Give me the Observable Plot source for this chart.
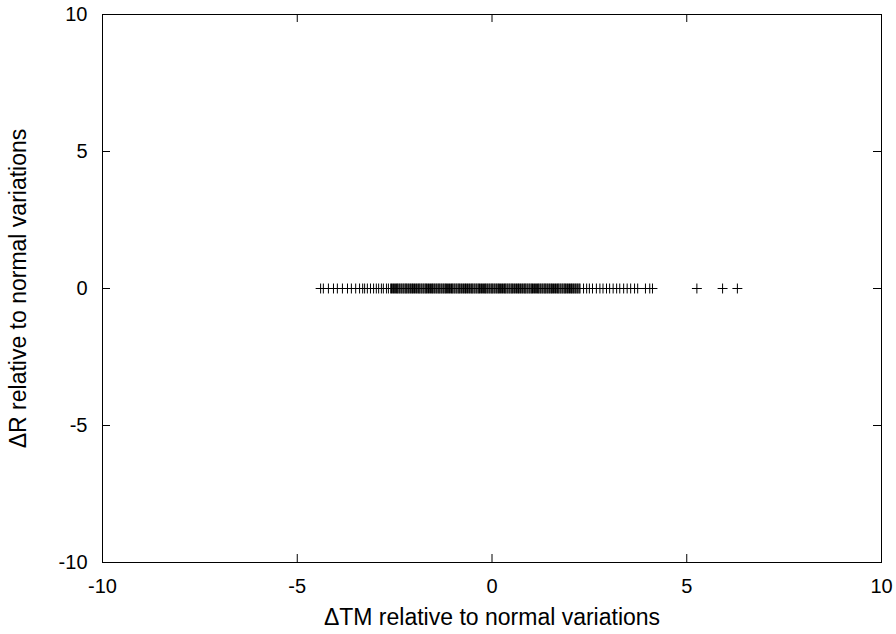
<!DOCTYPE html>
<html>
<head>
<meta charset="utf-8">
<script src="https://cdn.jsdelivr.net/npm/d3@7"></script>
<script src="https://cdn.jsdelivr.net/npm/@observablehq/plot@0.6"></script>
<style>
  html, body { margin: 0; padding: 0; background: #fff; }
</style>
</head>
<body>
<div id="chart"></div>
<script>
const xTicks = [-10, -5, 0, 5, 10];
const yTicks = [-10, -5, 0, 5, 10];
const xLabel = "ΔTM relative to normal variations";
const yLabel = "ΔR relative to normal variations";

// ΔTM values (all points lie on ΔR = 0)
const dTM = [
  -4.40, -4.33, -4.20, -4.07, -3.97, -3.84, -3.71, -3.61, -3.50,
  -3.40, -3.32, -3.27, -3.20, -3.12, -3.04, -2.97, -2.91, -2.84, -2.79, -2.71, -2.66,
  -2.60, -2.58, -2.55, -2.53, -2.50, -2.48, -2.45, -2.43, -2.41, -2.38, -2.36, -2.33, -2.31, -2.28, -2.26, -2.23, -2.21, -2.19, -2.16, -2.14, -2.11, -2.09, -2.06, -2.04, -2.02, -1.99, -1.97, -1.94, -1.92, -1.89, -1.87, -1.85, -1.82, -1.80, -1.77, -1.75, -1.72, -1.70, -1.68, -1.65, -1.63, -1.60, -1.58, -1.55, -1.53, -1.51, -1.48, -1.46, -1.43, -1.41, -1.38, -1.36, -1.34, -1.31, -1.29, -1.26, -1.24, -1.21, -1.19, -1.17, -1.14, -1.12, -1.09, -1.07, -1.04, -1.02, -1.00, -0.97, -0.95, -0.92, -0.90, -0.87, -0.85, -0.83, -0.80, -0.78, -0.75, -0.73, -0.70, -0.68, -0.66, -0.63, -0.61, -0.58, -0.56, -0.53, -0.51, -0.49, -0.46, -0.44, -0.41, -0.39, -0.36, -0.34, -0.32, -0.29, -0.27, -0.24, -0.22, -0.19, -0.17, -0.15, -0.12, -0.10, -0.07, -0.05, -0.02,
  0.00, 0.02, 0.05, 0.07, 0.10, 0.12, 0.15, 0.17, 0.19, 0.22, 0.24, 0.27, 0.29, 0.32, 0.34, 0.36, 0.39, 0.41, 0.44, 0.46, 0.49, 0.51, 0.53, 0.56, 0.58, 0.61, 0.63, 0.66, 0.68, 0.70, 0.73, 0.75, 0.78, 0.80, 0.83, 0.85, 0.87, 0.90, 0.92, 0.95, 0.97, 1.00, 1.02, 1.04, 1.07, 1.09, 1.12, 1.14, 1.17, 1.19, 1.21, 1.24, 1.26, 1.29, 1.31, 1.34, 1.36, 1.38, 1.41, 1.43, 1.46, 1.48, 1.51, 1.53, 1.55, 1.58, 1.60, 1.63, 1.65, 1.68, 1.70, 1.72, 1.75, 1.77, 1.80, 1.82, 1.85, 1.87, 1.89, 1.92, 1.94, 1.97, 1.99, 2.02, 2.04, 2.06, 2.09, 2.11, 2.14, 2.16, 2.19, 2.21, 2.24, 2.26,
  2.35, 2.43, 2.50, 2.58,
  2.68, 2.77, 2.85, 2.94, 3.02, 3.11, 3.20, 3.28, 3.38, 3.47, 3.56, 3.66, 3.74, 3.94, 4.05, 4.12,
  5.26, 5.92, 6.30
];
const dR = dTM.map(() => 0);
const points = dTM.map((x, i) => ({x, y: dR[i]}));

const W = 896, H = 634;
const mL = 102, mR = 15, mT = 14, mB = 72;
const pw = W - mL - mR, ph = H - mT - mB;
const tl = 8;
const fmt = d => String(d);

const chart = Plot.plot({
  width: W,
  height: H,
  marginLeft: mL,
  marginRight: mR,
  marginTop: mT,
  marginBottom: mB,
  style: {fontFamily: "'Liberation Sans', Arial, Helvetica, sans-serif", fontSize: "20px", color: "#000", background: "#fff"},
  x: {domain: [-10, 10]},
  y: {domain: [-10, 10]},
  marks: [
    Plot.dot(points, {x: "x", y: "y", symbol: "plus", r: 3.3, stroke: "#000", strokeWidth: 1}),
    Plot.tickX(xTicks, {x: d => d, insetTop: ph - tl, stroke: "#000"}),
    Plot.tickX(xTicks, {x: d => d, insetBottom: ph - tl, stroke: "#000"}),
    Plot.tickY(yTicks, {y: d => d, insetRight: pw - tl, stroke: "#000"}),
    Plot.tickY(yTicks, {y: d => d, insetLeft: pw - tl, stroke: "#000"}),
    Plot.frame({stroke: "#000", strokeWidth: 1}),
    Plot.axisX(xTicks, {tickSize: 0, tickPadding: 16, label: null, fontSize: 20, tickFormat: fmt}),
    Plot.axisY(yTicks, {tickSize: 0, tickPadding: 15, label: null, fontSize: 20, tickFormat: fmt}),
    Plot.text([xLabel], {frameAnchor: "bottom", dy: 62, fontSize: 23, fill: "#000", textAnchor: "middle"}),
    Plot.text([yLabel], {frameAnchor: "left", dx: -84, rotate: -90, fontSize: 23, fill: "#000", textAnchor: "middle"})
  ]
});
document.getElementById("chart").appendChild(chart);
</script>
</body>
</html>
